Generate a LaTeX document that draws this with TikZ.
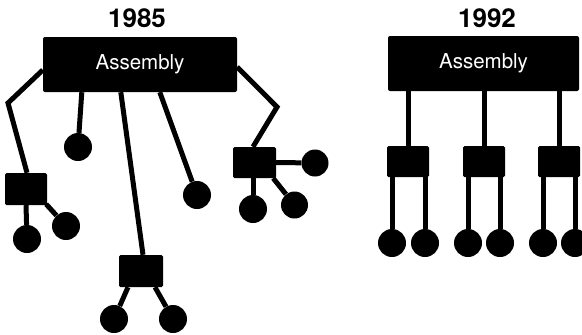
\documentclass[tikz,border=0pt]{standalone}
\usepackage{fontspec}
\setmainfont{TeX Gyre Heros}
\begin{document}
\begin{tikzpicture}[x=1pt,y=-1pt,
  asmbox/.style={fill=black,draw=none,rounded corners=2pt,inner sep=0pt,
    text=white,font=\fontsize{20.5}{24}\selectfont},
  yeartitle/.style={inner sep=0pt,font=\bfseries\fontsize{26}{30}\selectfont},
  part/.style={circle,fill=black,draw=none,minimum size=28pt,inner sep=0pt},
  sub/.style={rectangle,fill=black,draw=none,rounded corners=1.5pt,
    minimum width=42pt,minimum height=32pt,inner sep=0pt},
  link/.style={line width=5pt,line join=miter}]
\useasboundingbox (0,0) rectangle (582,335);
% ---------- 1985 ----------
\node[yeartitle] (t1) at (137,18) {1985};
\node[asmbox,minimum width=194pt,minimum height=55pt] (asm1) at (140,64.5) {Assembly};
\node[sub] (sq1) at (26,189) {};
\node[part] (c11) at (27,239) {};
\node[part] (c12) at (66,226) {};
\node[part] (cA) at (78,147) {};
\node[sub,minimum width=44pt] (sq2) at (141,271) {};
\node[part] (c21) at (114,319) {};
\node[part] (c22) at (173,319) {};
\node[part] (cB) at (197,195) {};
\node[sub,minimum width=43pt,minimum height=31pt] (sq3) at (254.5,162.5) {};
\node[part,minimum size=27pt] (c31) at (315,163) {};
\node[part] (c32) at (253,209) {};
\node[part,minimum size=27pt] (c33) at (294.5,205) {};
\coordinate (k1) at (8,103);
\coordinate (k2) at (277,107);
\draw[link] ([yshift=-5.5pt]asm1.west) -- (k1) -- ([xshift=1pt]sq1.north);
\draw[link] ([xshift=39pt]asm1.south west) -- (cA);
\draw[link] ([xshift=78pt]asm1.south west) -- ([xshift=2pt]sq2.north);
\draw[link] ([xshift=117pt]asm1.south west) -- (cB);
\draw[link] ([yshift=-2.5pt]asm1.east) -- (k2) -- ([xshift=-1.5pt]sq3.north);
\draw[link] (sq1.south) -- (c11);
\draw[link] ([xshift=-1pt,yshift=1pt]sq1.south east) -- (c12);
\draw[link] ([xshift=-13pt]sq2.south) -- (c21);
\draw[link] ([xshift=14pt]sq2.south) -- (c22);
\draw[link] (sq3.east) -- (c31);
\draw[link] ([xshift=-1.5pt]sq3.south) -- (c32);
\draw[link] ([xshift=-3pt]sq3.south east) -- (c33);
% ---------- 1992 ----------
\node[yeartitle] (t2) at (487,18) {1992};
\node[asmbox,minimum width=191pt,minimum height=55pt] (asm2) at (483.5,63.5) {Assembly};
\node[sub,minimum height=31pt] (sq4) at (408,161.5) {};
\node[sub,minimum height=31pt] (sq5) at (484,161.5) {};
\node[sub,minimum height=31pt] (sq6) at (559,161.5) {};
\foreach \n/\x in {c41/392,c42/425,c51/468,c52/500,c61/543,c62/575}
  \node[part] (\n) at (\x,243) {};
\foreach \s in {sq4,sq5,sq6}
  \draw[link] (\s.north |- asm2.south) -- (\s.north);
\draw[link] (c41 |- sq4.south) -- (c41);
\draw[link] (c42 |- sq4.south) -- (c42);
\draw[link] (c51 |- sq5.south) -- (c51);
\draw[link] (c52 |- sq5.south) -- (c52);
\draw[link] (c61 |- sq6.south) -- (c61);
\draw[link] (c62 |- sq6.south) -- (c62);
\end{tikzpicture}
\end{document}
